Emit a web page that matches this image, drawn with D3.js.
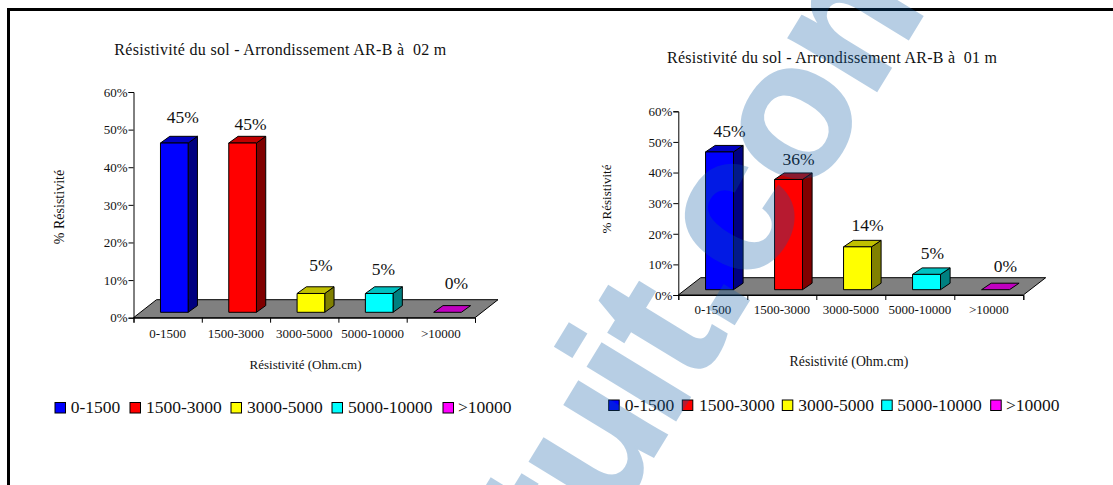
<!DOCTYPE html>
<html>
<head>
<meta charset="utf-8">
<script src="https://cdnjs.cloudflare.com/ajax/libs/d3/7.8.5/d3.min.js"></script>
<style>
html,body{margin:0;padding:0;background:#fff;overflow:hidden}
svg{display:block}
text{font-family:"Liberation Serif","Times New Roman",serif;fill:#111}
</style>
</head>
<body>
<svg id="c" width="1113" height="485"></svg>
<script>
const categories = ["0-1500","1500-3000","3000-5000","5000-10000",">10000"];
const valuesLeft = [45,45,5,5,0];
const valuesRight = [45,36,14,5,0];
const yTicks = [0,10,20,30,40,50,60];
const frontColors = ["#0000ff","#ff0000","#ffff00","#00ffff","#ff00ff"];
const topColors = ["#0000c0","#c00000","#c0c000","#00c0c0","#c000c0"];
const sideColors = ["#000080","#800000","#808000","#008080","#800080"];
const titleLeft = "Résistivité du sol - Arrondissement AR-B à  02 m";
const titleRight = "Résistivité du sol - Arrondissement AR-B à  01 m";
const xTitle = "Résistivité (Ohm.cm)";
const yTitle = "% Résistivité";

const svg = d3.select("#c");
// page frame
svg.append("path").attr("d","M8.5 485V9.5H1113").attr("fill","none").attr("stroke","#000").attr("stroke-width",3);

function chart(o){
  const g = svg.append("g");
  const y = d3.scaleLinear().domain([0,60]).range([o.y0,o.y60]);
  const band = d3.scaleBand().domain(categories).range([o.x0,o.x1]);
  const xt = d3.scaleLinear().domain([0,5]).range([o.x0,o.x1]);
  const bw = band.bandwidth();
  const w = bw*0.405, off = bw*0.395;
  // floor
  g.append("polygon")
    .attr("points",[[o.x0,o.y0],[o.x1,o.y0],[o.x1+o.fx,o.y0-o.fy],[o.x0+o.fx,o.y0-o.fy]].join(" "))
    .attr("fill","#808080").attr("stroke","#000").attr("stroke-width",1);
  // bars
  const data = categories.map((c,i)=>({c,i,v:o.values[i]}));
  const b = g.selectAll(".bar").data(data).join("g").attr("class","bar");
  const L = d=>band(d.c)+off, R = d=>L(d)+w, B = o.y0-o.inset, T = d=>y(d.v)-o.inset;
  const stroke = s=>s.attr("stroke","#000").attr("stroke-width",1).attr("stroke-linejoin","round");
  b.filter(d=>d.v>0).append("polygon")
    .attr("points",d=>[[R(d),T(d)],[R(d)+o.dx,T(d)-o.dy],[R(d)+o.dx,B-o.dy],[R(d),B]].join(" "))
    .attr("fill",d=>sideColors[d.i]).call(stroke);
  b.append("polygon")
    .attr("points",d=>[[L(d),T(d)],[L(d)+o.dx,T(d)-o.dy],[R(d)+o.dx,T(d)-o.dy],[R(d),T(d)]].join(" "))
    .attr("fill",d=>topColors[d.i]).call(stroke);
  b.filter(d=>d.v>0).append("rect")
    .attr("x",L).attr("y",T).attr("width",w).attr("height",d=>B-T(d))
    .attr("fill",d=>frontColors[d.i]).call(stroke);
  // value labels
  b.append("text").attr("text-anchor","middle").attr("font-size",17.5)
    .attr("x",d=>L(d)+w/2+o.lx[d.i])
    .attr("y",d=>T(d)-o.ly[d.i])
    .text(d=>d.v+"%");
  // axes
  const ya = d3.axisLeft(y).tickValues(yTicks).tickSize(5).tickPadding(1).tickFormat(d=>d+"%");
  const yg = g.append("g").attr("transform",`translate(${o.x0},0)`).call(ya);
  yg.selectAll("text").attr("font-size",13).attr("font-family",null).attr("dy","0.33em");
  const xa = d3.axisBottom(xt).ticks(5).tickSize(5).tickSizeOuter(5).tickFormat("");
  g.append("g").attr("transform",`translate(0,${o.y0})`).call(xa);
  g.selectAll(".domain,.tick line").attr("stroke","#000").attr("stroke-width",1);
  g.selectAll(".catl").data(categories).join("text").attr("class","catl")
    .attr("text-anchor","middle").attr("font-size",13)
    .attr("x",c=>band(c)+bw/2).attr("y",o.catY).text(c=>c);
  // titles
  g.append("text").attr("x",o.titleX).attr("y",o.titleY).attr("font-size",16)
    .attr("textLength",o.titleW).attr("lengthAdjust","spacing").style("white-space","pre").text(o.title);
  g.append("text").attr("x",o.xtX).attr("y",o.xtY).attr("text-anchor","middle").attr("font-size",o.xtF).text(xTitle);
  g.append("text").attr("transform",`translate(${o.ytX},${o.ytY}) rotate(-90)`)
    .attr("text-anchor","middle").attr("font-size",o.ytF).text(yTitle);
  // legend
  const lg = g.selectAll(".leg").data(categories).join("g").attr("class","leg");
  lg.append("rect").attr("x",(c,i)=>o.legS[i]).attr("y",o.legY).attr("width",10.5).attr("height",10.5)
    .attr("fill",(c,i)=>frontColors[i]).attr("stroke","#000").attr("stroke-width",1);
  lg.append("text").attr("x",(c,i)=>o.legT[i]).attr("y",o.legB).attr("font-size",17.5).text(c=>c);
}

chart({values:valuesLeft,title:titleLeft,x0:133.5,x1:475,y0:317.7,y60:92,fx:23,fy:18,inset:5.4,dx:9.3,dy:6.7,
  lx:[8.5,8,10,4.3,9],ly:[20,13,22,18,23],catY:338,titleX:114.3,titleY:55,titleW:332,
  xtX:305.5,xtY:369,xtF:13,ytX:64,ytY:207,ytF:14,
  legS:[55,130,231,332,443],legT:[70.7,146,247,348,458],legY:402.5,legB:413});
chart({values:valuesRight,title:titleRight,x0:678.3,x1:1023.3,y0:295,y60:111.3,fx:22.4,fy:17.3,inset:5.3,dx:9.6,dy:6.5,
  lx:[10,10,10,6,10],ly:[15,14,16,15,18],catY:314,titleX:667,titleY:62.7,titleW:330,
  xtX:849,xtY:366,xtF:13.8,ytX:610.7,ytY:199,ytF:13,
  legS:[608.7,682.3,782.3,881.7,990.7],legT:[624.7,699,798.3,897.3,1006],legY:400,legB:411});

// watermark laid over the page
const wm = svg.append("g").attr("opacity",0.29).attr("transform","translate(682,410) rotate(-58.6)");
const wmStyle = t=>t.attr("font-size",195).attr("font-weight",700)
  .style("font-family","'Liberation Sans',Arial,sans-serif")
  .style("fill","rgb(10,90,165)").style("stroke","rgb(10,90,165)").style("stroke-width",2);
const tail = wm.append("text").call(wmStyle).style("letter-spacing","-3px").text("it.com");
const iw = tail.node().getSubStringLength(0,1);
tail.attr("x",-iw/2);
wm.append("text").call(wmStyle).attr("text-anchor","end").attr("x",-iw/2+9.5).text("Rapport-gratu");
</script>
</body>
</html>
